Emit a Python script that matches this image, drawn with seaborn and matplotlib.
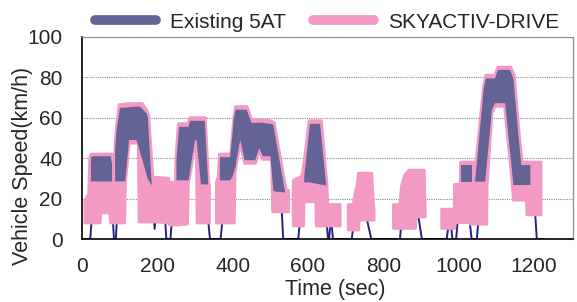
import numpy as np
import matplotlib
matplotlib.use("Agg")
import matplotlib.pyplot as plt
from matplotlib.lines import Line2D
import seaborn as sns

nan = np.nan

# vehicle speed trace (thin navy line), time in sec, speed in km/h
speed_t = [0, 22, 26, 40, 70, 80, 82, 85, 90, 93, 100, 130, 150, 160, 180, 189, 193, 197,
           215, 221, 224, 235, 238, 250, 270, 300, 320, 333, 337, 340, 368, 372, 380, 395,
           410, 440, 460, 500, 510, 530, 534, 574, 578, 590, 605, 630, 645, 650, 653, 656,
           659, 663, 666, 716, 720, 735, 750, 757, 768, 844, 847, 860, 885, 893, 902, 968,
           972, 980, 983, 993, 997, 1010, 1028, 1030, 1034, 1048, 1052, 1060, 1070, 1100,
           1130, 1145, 1170, 1200, 1203, 1207, 1225]
speed_v = [0, 0, 10, 30, 35, 20, 10, 0, 0, 10, 40, 60, 60, 50, 35, 15, 5, 15,
           20, 9, 0, 0, 8, 20, 50, 55, 50, 15, 5, 0, 0, 8, 20, 35,
           55, 60, 50, 50, 35, 15, 0, 0, 8, 25, 40, 45, 15, 7, 0, 0,
           7, 7, 0, 0, 6, 12, 20, 9, 0, 0, 7, 15, 20, 11, 0, 0,
           6, 6, 0, 0, 9, 20, 12, 7, 0, 0, 9, 40, 70, 80,
           80, 40, 30, 20, 12, 0, 0]

# SKYACTIV-DRIVE lock-up band (upper / lower edge)
sky_t = [8, 18, 21, 24, 48, 50, 74, 76, 80, 82, 86, 88, 92, 99, 113, 115, 125, 150, 152, 160,
         172, 177, 188, 196, 230, 232, 248, 250, 256, 280, 282, 285, 287, 300, 304, 306, 327,
         336, 338, nan,
         357, 362, 365, 395, 401, 404, 406, 408, 410, 420, 432, 438, 450, 460, 470, 480, 500,
         504, 506, 510, 541, 548, nan,
         561, 583, 586, 588, 589, 603, 621, 622, 635, 650, 652, 685, nan,
         707, 720, 725, 731, 734, 735, 769, 772, 775, nan,
         827, 844, 848, 857, 868, 885, 887, 908, 911, nan,
         955, 988, 989, 990, 1004, 1005, 1030, 1031, 1046, 1066, 1072, 1074, 1075, 1088, 1096,
         1104, 1122, 1138, 1143, 1145, 1147, 1160, 1168, 1180, 1181, 1218]
sky_hi = [19, 22, 40, 42, 42, 42, 42, 42, 42, 35, 33, 46, 56, 66.5, 66.7, 66.8, 67, 67, 67, 67,
          63.5, 61, 30, 30.5, 30, 28, 28, 41, 57, 57, 57, 59, 60, 60, 60, 60, 60,
          28, 26, nan,
          28, 31, 42, 42, 55, 61, 63, 65.5, 65.5, 65.5, 65.5, 65.5, 59, 59, 59, 59, 58.5,
          58, 58, 57.5, 24.5, 24, nan,
          29, 31, 33, 36, 37, 58.5, 58.5, 58.5, 58.5, 27, 17, 17, nan,
          17, 17, 22.5, 27, 32.5, 32.5, 32.5, 20, 14, nan,
          17, 17, 26, 31.7, 34, 34, 34, 34, 12, nan,
          14.7, 14.7, 27, 27, 27, 38, 38, 38, 38, 75.5, 81, 81, 81, 81, 81,
          85, 85, 85, 82.8, 81.9, 81, 52, 38, 38, 38, 38]
sky_lo = [8, 8, 8, 8, 8, 13, 13, 8, 8, 8, 8, 8, 8, 8, 8, 27.5, 47.5, 47.5, 8.5, 8.5,
          8.5, 8.5, 8.5, 8.5, 8, 7, 7, 7, 7, 7.5, 27.5, 30, 32.2, 47.5, 47.5, 8, 8,
          8, 8, nan,
          8, 8, 8, 8, 8, 8, 33, 34.5, 37.5, 47.5, 37.5, 37.5, 37.5, 37.5, 43.5, 39.5, 39.5,
          38, 13.5, 13.5, 13.5, 13.5, nan,
          6.5, 6.5, 6.5, 6.5, 18.5, 18.5, 18.5, 6.5, 6.5, 6.5, 6.5, 6.5, nan,
          4.5, 4.5, 4.5, 4.5, 4.5, 9.4, 9.4, 9.4, 9.4, nan,
          5.3, 5.3, 5.3, 5.3, 5.3, 5.3, 11, 11, 11, nan,
          5.3, 5.3, 5.3, 8.2, 8.2, 8.2, 8.2, 7.4, 7.4, 7.4, 7.4, 7.4, 27, 62.5, 65.7,
          65.7, 65.7, 35.1, 25.5, 19.3, 19.3, 19.3, 19.3, 19.3, 12, 12]

# Existing 5AT lock-up band (upper / lower edge)
at5_t = [24, 30, 76, 80, nan,
         88, 92, 101, 113, 115, 125, 145, 155, 172, 175, 185, nan,
         251, 258, 283, 287, 300, 304, 316, 326, 335, nan,
         366, 393, 400, 403, 408, 410, 420, 432, 437, 450, 460, 470, 480, 500, 508, 512, 539, nan,
         590, 605, 632, 648, nan,
         1006, 1034, nan,
         1043, 1048, 1066, 1070, 1072, 1088, 1096, 1104, 1123, 1136, 1145, 1158, 1166, 1190]
at5_hi = [40.5, 41, 41, 37, nan,
          44, 54, 65, 65, 65, 65.3, 65.5, 65.5, 62, 60, 27.5, nan,
          40, 55.5, 55.5, 58.5, 58.5, 58.5, 58.5, 58.5, 27.5, nan,
          40.5, 40.5, 53, 60, 64, 64, 64, 64, 64, 57.5, 57.5, 57.5, 57.5, 57, 56.5, 52, 23.5, nan,
          31, 57, 57, 27, nan,
          36.6, 36.6, nan,
          28.4, 38, 74, 78, 79.5, 79.5, 79.5, 83.7, 83.7, 83.7, 79.5, 52, 36.6, 36.6]
at5_lo = [28.5, 28.5, 28.5, 28.5, nan,
          28.5, 28.5, 28.5, 28.5, 29, 49, 49, 42.6, 31.6, 29.7, 26.5, nan,
          29, 29, 29, 33.7, 49, 49, 27, 27, 27, nan,
          29, 29, 31, 33, 36, 39, 49, 39, 39, 39, 39, 45, 41, 41, 24, 23.5, 23, nan,
          28, 28, 27, 26.5, nan,
          28.4, 28.4, nan,
          28.4, 28.4, 28.4, 28.4, 32.4, 64, 67.2, 67.2, 67.2, 43.3, 26.7, 26.7, 26.7, 26.7]

x_ticks = [0, 200, 400, 600, 800, 1000, 1200]
y_ticks = [0, 20, 40, 60, 80, 100]

c_at5 = "#636396"
c_sky = "#f29ac4"
c_line = "#24247a"

sns.set_theme(style="white")
plt.rcParams["font.family"] = ["Liberation Sans", "DejaVu Sans"]

fig = plt.figure(figsize=(5.77, 3.02), dpi=100)
ax = fig.add_axes([0.142, 0.2086, 0.851, 0.669])

sns.lineplot(x=speed_t, y=speed_v, estimator=None, sort=False, color=c_line,
             linewidth=1.4, ax=ax, zorder=2)
ax.fill_between(sky_t, sky_lo, sky_hi, facecolor=c_sky, edgecolor=c_sky,
                linewidth=2.2, zorder=3)
ax.fill_between(at5_t, at5_lo, at5_hi, facecolor=c_at5, edgecolor="none",
                linewidth=0, zorder=4)

ax.set_xlim(0, 1303)
ax.set_ylim(0, 100)
ax.set_xticks(x_ticks)
ax.set_yticks(y_ticks)
ax.yaxis.grid(True, linestyle=(0, (1, 1)), color="#8c8c8c", linewidth=0.8)
ax.set_axisbelow(True)

for s in ["left", "bottom"]:
    ax.spines[s].set_color("black")
    ax.spines[s].set_linewidth(1.2)
ax.spines["top"].set_color("#8c8c8c")
ax.spines["top"].set_linestyle((0, (1, 1)))
ax.spines["top"].set_linewidth(0.8)
ax.spines["right"].set_color("#999999")
ax.spines["right"].set_linewidth(1.0)

ax.tick_params(axis="x", direction="in", length=4, color="#888888", labelsize=15, pad=13)
ax.tick_params(axis="y", length=0, labelsize=15, pad=14)

ax.set_xlabel("Time (sec)", fontsize=15.5)
ax.set_ylabel("Vehicle Speed(km/h)", fontsize=15.5)
ax.xaxis.set_label_coords(0.515, -0.2)
ax.yaxis.set_label_coords(-0.099, 0.36)

handles = [Line2D([], [], color=c_at5, linewidth=7),
           Line2D([], [], color=c_sky, linewidth=7)]
ax.legend(handles, ["Existing 5AT", "SKYACTIV-DRIVE"], ncol=2, loc="lower center",
          bbox_to_anchor=(0.5, 0.975), frameon=False, fontsize=15, handlelength=2.9,
          handletextpad=0.7, columnspacing=1.3, borderaxespad=0.1)

fig.savefig("out.png", dpi=100)
